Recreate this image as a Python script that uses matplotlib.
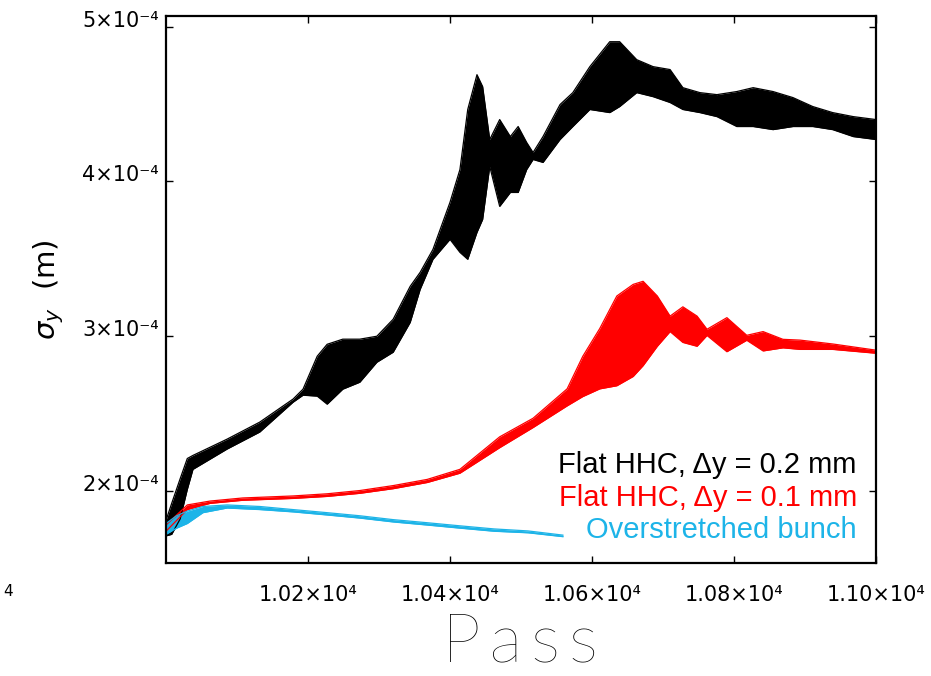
import matplotlib
matplotlib.use("Agg")
import matplotlib.pyplot as plt
import numpy as np

# sigma_y envelopes, in units of 1e-4 m
pass_black = [10000, 10008, 10020, 10030, 10038, 10086, 10132, 10179, 10193, 10213,
              10227, 10249, 10273, 10297, 10320, 10344, 10358, 10376, 10400, 10414,
              10425, 10438, 10446, 10456, 10470, 10485, 10496, 10508, 10517, 10531,
              10555, 10573, 10597, 10625, 10639, 10663, 10686, 10710, 10728, 10752,
              10776, 10804, 10827, 10855, 10883, 10911, 10939, 10968, 11000]
black_hi = [1.81, 1.92, 2.08, 2.21, 2.23, 2.335, 2.445, 2.594, 2.658, 2.871,
            2.948, 2.981, 2.981, 3.000, 3.110, 3.323, 3.413, 3.561, 3.865, 4.077,
            4.465, 4.690, 4.613, 4.271, 4.400, 4.290, 4.355, 4.252, 4.187, 4.290,
            4.497, 4.574, 4.742, 4.903, 4.903, 4.787, 4.742, 4.723, 4.606, 4.574,
            4.561, 4.581, 4.606, 4.581, 4.542, 4.484, 4.445, 4.419, 4.400]
black_lo = [1.71, 1.72, 1.82, 2.01, 2.14, 2.271, 2.381, 2.574, 2.619, 2.613,
            2.561, 2.658, 2.703, 2.832, 2.897, 3.090, 3.303, 3.497, 3.626, 3.542,
            3.497, 3.671, 3.755, 4.097, 3.839, 3.929, 3.929, 4.077, 4.142, 4.123,
            4.271, 4.355, 4.465, 4.445, 4.484, 4.574, 4.548, 4.510, 4.465, 4.445,
            4.419, 4.355, 4.355, 4.335, 4.355, 4.355, 4.335, 4.290, 4.271]

pass_red = [10000, 10030, 10062, 10108, 10179, 10227, 10273, 10320, 10368, 10414,
            10470, 10517, 10565, 10587, 10611, 10635, 10658, 10672, 10692, 10710,
            10728, 10748, 10762, 10790, 10818, 10841, 10869, 10893, 10939, 11000]
red_hi = [1.78, 1.91, 1.935, 1.955, 1.968, 1.982, 2.003, 2.035, 2.075, 2.14,
          2.35, 2.47, 2.66, 2.87, 3.05, 3.26, 3.335, 3.355, 3.26, 3.13,
          3.19, 3.13, 3.045, 3.12, 3.006, 3.03, 2.98, 2.975, 2.95, 2.91]
red_lo = [1.74, 1.88, 1.92, 1.94, 1.952, 1.965, 1.985, 2.015, 2.055, 2.115,
          2.28, 2.41, 2.55, 2.61, 2.66, 2.68, 2.74, 2.81, 2.935, 3.03,
          2.96, 2.935, 3.005, 2.90, 2.974, 2.905, 2.925, 2.915, 2.915, 2.89]

pass_blue = [10000, 10015, 10030, 10052, 10086, 10132, 10179, 10227, 10273, 10320,
             10368, 10414, 10462, 10510, 10559]
blue_hi = [1.79, 1.84, 1.87, 1.90, 1.91, 1.90, 1.88, 1.86, 1.84, 1.815,
           1.795, 1.775, 1.755, 1.742, 1.715]
blue_lo = [1.72, 1.76, 1.79, 1.86, 1.89, 1.88, 1.865, 1.845, 1.825, 1.80,
           1.78, 1.76, 1.74, 1.73, 1.705]

labels = ["Flat HHC, \u0394y = 0.2 mm", "Flat HHC, \u0394y = 0.1 mm", "Overstretched bunch"]
colors = ["black", "#ff0000", "#1db4e8"]

xticks = [10200, 10400, 10600, 10800, 11000]
xtick_labels = ["1.02\u00d710\u2074", "1.04\u00d710\u2074", "1.06\u00d710\u2074",
                "1.08\u00d710\u2074", "1.10\u00d710\u2074"]
yticks = [2e-4, 3e-4, 4e-4, 5e-4]
ytick_labels = ["2\u00d710\u207b\u2074", "3\u00d710\u207b\u2074",
                "4\u00d710\u207b\u2074", "5\u00d710\u207b\u2074"]

fig = plt.figure(figsize=(9.31, 6.76), dpi=100)
ax = fig.add_axes([0.1783, 0.1672, 0.7626, 0.8091])

series = [(pass_black, black_lo, black_hi), (pass_red, red_lo, red_hi),
          (pass_blue, blue_lo, blue_hi)]
for (xs, lo, hi), c in zip(series, colors):
    xs = np.array(xs)
    lo = np.array(lo) * 1e-4
    hi = np.array(hi) * 1e-4
    ax.fill_between(xs, lo, hi, color=c, lw=0)
    ax.plot(xs, lo, color=c, lw=0.9)
    ax.plot(xs, hi, color=c, lw=0.9)

ax.set_xlim(10000, 11000)
ax.set_ylim(1.535e-4, 5.069e-4)
ax.set_xticks(xticks)
ax.set_xticklabels(xtick_labels)
ax.set_yticks(yticks)
ax.set_yticklabels(ytick_labels)
ax.tick_params(direction="in", length=5, width=1.0, top=True, right=True,
               labelsize=15, colors="black")
ax.tick_params(axis="y", pad=5)
ax.tick_params(axis="x", pad=16)
for lab in ax.get_yticklabels():
    lab.set_verticalalignment("baseline")
for s in ax.spines.values():
    s.set_linewidth(1.6)

ax.set_ylabel(r"$\sigma_y\ \ (\mathrm{m})$", fontsize=21, labelpad=12)
fig.text(520 / 931, 1 - 662 / 676, "P\u2009a\u2009s\u2009s", fontsize=50,
         family=["Lato", "DejaVu Sans"], fontweight="light",
         ha="center", va="baseline")

for i, (lab, c) in enumerate(zip(labels, colors)):
    ax.text(0.973, 0.179 - i * 0.0595, lab, color=c, ha="right", va="center",
            fontsize=21, family="Liberation Sans", transform=ax.transAxes)

# stray superscript left over from the clipped first tick label
fig.text(0.004, 1 - 592 / 676, "4", fontsize=11, va="center", ha="left")

fig.savefig("out.png", dpi=100)
